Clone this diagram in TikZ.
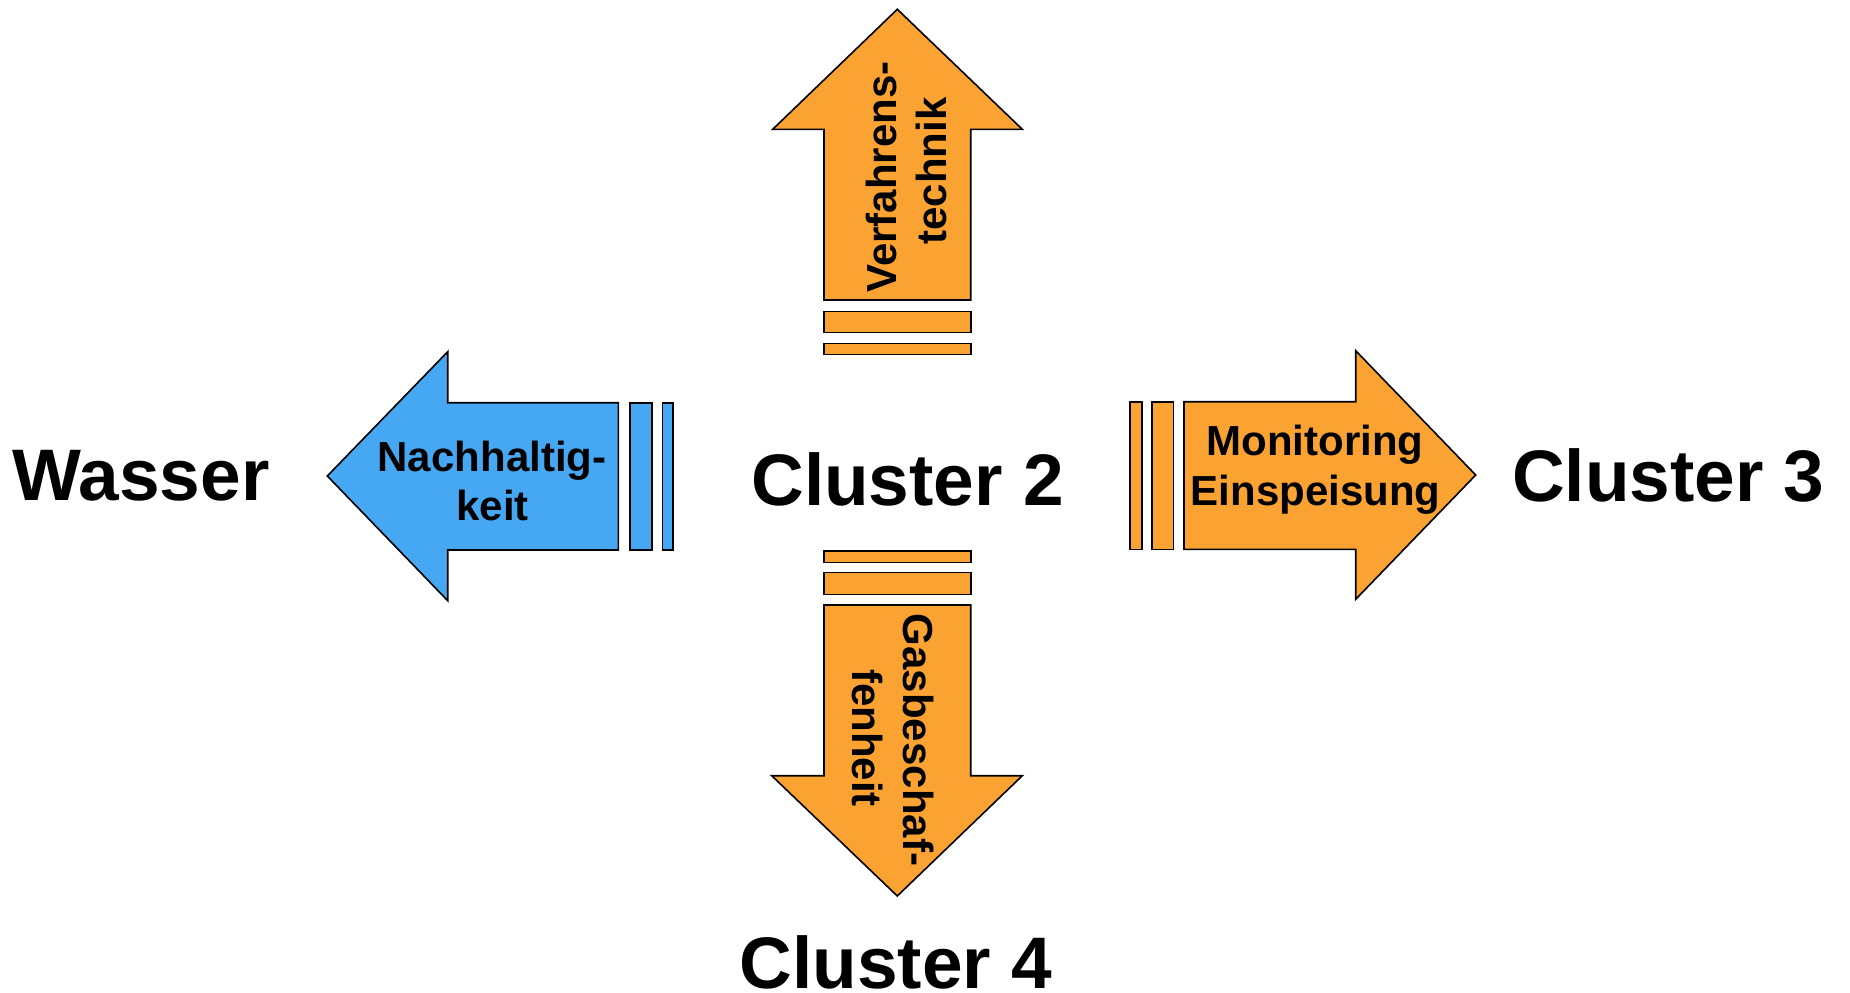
\documentclass[tikz,border=0pt]{standalone}
\usepackage{fontspec}
\setmainfont{Liberation Sans}
\definecolor{arroworange}{RGB}{250,163,50}
\definecolor{arrowblue}{RGB}{70,168,242}
\tikzset{
  orangeshape/.style={fill=arroworange, draw=black, line width=1.6pt, line join=miter},
  blueshape/.style={fill=arrowblue, draw=black, line width=1.6pt, line join=miter},
  biglabel/.style={font=\fontsize{73}{80}\selectfont\bfseries, anchor=base, inner sep=0pt},
  arrowlabel/.style={font=\fontsize{42}{50}\selectfont\bfseries, anchor=base, inner sep=0pt},
}
\begin{document}
\begin{tikzpicture}[x=1pt,y=-1pt]
\useasboundingbox (0,0) rectangle (1850,993);

% --- up arrow (Verfahrenstechnik)
\draw[orangeshape] (897.3,9.3) -- (1022.3,129.3) -- (970.7,129.3) -- (970.7,300)
  -- (824,300) -- (824,129.3) -- (772.7,129.3) -- cycle;
\draw[orangeshape] (824,311.3) rectangle (970.7,332.3);
\draw[orangeshape] (824,343.3) rectangle (970.7,354.3);
\node[arrowlabel, rotate=90] (verf1) at (896.7,177) {Verfahrens-};
\node[arrowlabel, rotate=90] (verf2) at (946.7,171) {technik};

% --- left arrow (Nachhaltigkeit)
\draw[blueshape] (327.3,476) -- (447.7,351.7) -- (447.7,402.7) -- (618.3,402.7)
  -- (618.3,550) -- (447.7,550) -- (447.7,600.7) -- cycle;
\draw[blueshape] (630,402.7) rectangle (651.7,550);
\draw[blueshape] (662.3,402.7) rectangle (672.7,550);
\node[arrowlabel] (nach1) at (492,471.7) {Nachhaltig-};
\node[arrowlabel] (nach2) at (492.5,520) {keit};

% --- right arrow (Monitoring Einspeisung)
\draw[orangeshape] (1475.7,475) -- (1355.7,350.7) -- (1355.7,401.7) -- (1184,401.7)
  -- (1184,549.3) -- (1355.7,549.3) -- (1355.7,599.3) -- cycle;
\draw[orangeshape] (1130,401.7) rectangle (1141.7,549.3);
\draw[orangeshape] (1151.7,401.7) rectangle (1173.3,549.3);
\node[arrowlabel] (mon1) at (1315,455) {Monitoring};
\node[arrowlabel] (mon2) at (1315.5,505) {Einspeisung};

% --- down arrow (Gasbeschaffenheit)
\draw[orangeshape] (897.3,896) -- (1022.3,775.7) -- (970.7,775.7) -- (970.7,605)
  -- (824,605) -- (824,775.7) -- (771.7,775.7) -- cycle;
\draw[orangeshape] (824,551) rectangle (970.7,562.3);
\draw[orangeshape] (824,572.3) rectangle (970.7,594.3);
\node[arrowlabel, rotate=-90] (gas1) at (903.3,740) {Gasbeschaf-};
\node[arrowlabel, rotate=-90] (gas2) at (852,738) {fenheit};

% --- big labels
\node[biglabel] (wasser) at (141,500) {Wasser};
\node[biglabel] (c2) at (907.5,505) {Cluster 2};
\node[biglabel] (c3) at (1668.3,501.7) {Cluster 3};
\node[biglabel] (c4) at (895.8,988.5) {Cluster 4};
\end{tikzpicture}
\end{document}
